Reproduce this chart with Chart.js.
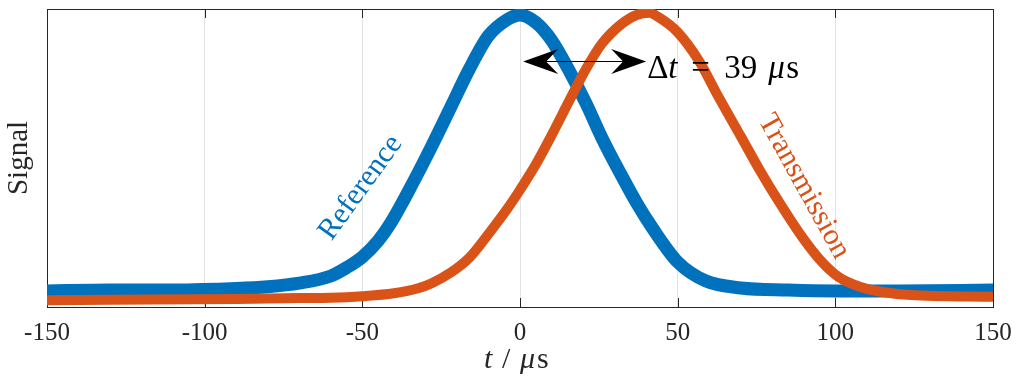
<!DOCTYPE html>
<html>
<head>
<meta charset="utf-8">
<script src="https://cdn.jsdelivr.net/npm/chart.js@4.4.1/dist/chart.umd.min.js"></script>
<style>
    body { margin: 0; background: #fff; }
    #wrap { width: 1019px; height: 383px; }
</style>
</head>
<body>
<div id="wrap"><canvas id="signalChart"></canvas></div>
<script>
// Data (t in µs, signal normalised to the axis height)
const refTime   = [-150, -130, -110, -90, -80, -70, -60, -55, -50, -45, -41, -34, -28, -22, -16, -10, -4, 0, 5, 10, 16, 21, 26, 32, 37, 42, 50, 59, 70, 85, 100, 120, 150];
const refSignal = [0.054, 0.057, 0.057, 0.062, 0.068, 0.080, 0.104, 0.132, 0.168, 0.222, 0.282, 0.416, 0.540, 0.670, 0.800, 0.910, 0.965, 0.980, 0.955, 0.895, 0.785, 0.682, 0.567, 0.445, 0.349, 0.265, 0.151, 0.087, 0.064, 0.057, 0.054, 0.054, 0.057];

const trnTime   = [-150, -90, -70, -60, -50, -40, -32, -28, -22, -16, -10, -4, 0, 5, 10, 16, 21, 26, 32, 37, 41, 44, 50, 57, 63, 70, 76, 82, 89, 95, 101, 108, 114, 124, 150];
const trnSignal = [0.023, 0.027, 0.030, 0.031, 0.036, 0.046, 0.064, 0.080, 0.115, 0.166, 0.245, 0.330, 0.393, 0.478, 0.576, 0.700, 0.800, 0.884, 0.948, 0.980, 0.987, 0.972, 0.922, 0.822, 0.704, 0.573, 0.460, 0.355, 0.242, 0.160, 0.101, 0.067, 0.052, 0.040, 0.034];

const tickValues = [-150, -100, -50, 0, 50, 100, 150];

// Delay arrow and the curve labels
const arrowFrom = 1;
const arrowTo = 40;
const arrowLevel = 0.826;
const refLabel = { text: 'Reference', t: -50.5, v: 0.40, angle: -54 };
const trnLabel = { text: 'Transmission', t: 90, v: 0.405, angle: 61 };

const colors = {
    ref: '#0072BD',
    trn: '#D95319',
    axis: '#262626',
    grid: '#e3e3e3'
};

const serif = '"Liberation Serif", "DejaVu Serif", serif';

// draw pieces of mixed upright / italic text at given offsets
function drawPieces(ctx, parts, x, y, size) {
    parts.forEach(p => {
        ctx.font = (p.italic ? 'italic ' : '') + size + 'px ' + serif;
        ctx.fillText(p.s, x + p.dx, y);
    });
}

function arrowHead(ctx, tipX, y, dir) {
    // dir = -1 points left, +1 points right
    const len = 35, half = 12.5, notch = 23;
    ctx.beginPath();
    ctx.moveTo(tipX, y);
    ctx.lineTo(tipX - dir * len, y - half);
    ctx.lineTo(tipX - dir * notch, y);
    ctx.lineTo(tipX - dir * len, y + half);
    ctx.closePath();
    ctx.fill();
}

const overlay = {
    id: 'overlay',
    beforeDatasetsDraw(chart) {
        const { ctx, chartArea: a, scales: { x } } = chart;
        ctx.save();
        ctx.strokeStyle = colors.axis;
        ctx.lineWidth = 1;
        ctx.strokeRect(a.left + 0.5, a.top + 0.5, a.right - a.left, a.bottom - a.top);
        ctx.beginPath();
        tickValues.forEach(v => {
            const px = Math.round(x.getPixelForValue(v)) + 0.5;
            ctx.moveTo(px, a.bottom);
            ctx.lineTo(px, a.bottom - 9);
            ctx.moveTo(px, a.top);
            ctx.lineTo(px, a.top + 9);
        });
        ctx.stroke();
        ctx.restore();
    },
    afterDatasetsDraw(chart) {
        const { ctx, chartArea: a, scales: { x, y } } = chart;
        ctx.save();

        // double arrow for the delay
        const x0 = x.getPixelForValue(arrowFrom);
        const x1 = x.getPixelForValue(arrowTo);
        const ay = Math.round(y.getPixelForValue(arrowLevel)) + 0.5;
        ctx.strokeStyle = '#000';
        ctx.fillStyle = '#000';
        ctx.lineWidth = 1.2;
        ctx.beginPath();
        ctx.moveTo(x0 + 20, ay);
        ctx.lineTo(x1 - 20, ay);
        ctx.stroke();
        arrowHead(ctx, x0, ay, -1);
        arrowHead(ctx, x1, ay, 1);

        ctx.textBaseline = 'alphabetic';
        ctx.textAlign = 'left';
        drawPieces(ctx, [
            { s: 'Δ', dx: 0 },
            { s: 't', italic: true, dx: 21 },
            { s: '=', dx: 44 },
            { s: '39', dx: 77 },
            { s: 'μ', italic: true, dx: 121 },
            { s: 's', dx: 139 }
        ], x1 + 1, ay + 16, 33);

        // curve labels
        [[refLabel, colors.ref], [trnLabel, colors.trn]].forEach(([lab, col]) => {
            ctx.save();
            ctx.translate(x.getPixelForValue(lab.t), y.getPixelForValue(lab.v));
            ctx.rotate(lab.angle * Math.PI / 180);
            ctx.fillStyle = col;
            ctx.font = '30px ' + serif;
            ctx.textAlign = 'center';
            ctx.textBaseline = 'middle';
            ctx.fillText(lab.text, 0, 0);
            ctx.restore();
        });

        // x axis title: t / μs
        ctx.fillStyle = colors.axis;
        const cx = (a.left + a.right) / 2;
        drawPieces(ctx, [
            { s: 't', italic: true, dx: 0 },
            { s: '/', dx: 18 },
            { s: 'μ', italic: true, dx: 36 },
            { s: 's', dx: 53 }
        ], cx - 36, a.bottom + 61, 30);

        ctx.restore();
    }
};

new Chart(document.getElementById('signalChart'), {
    type: 'line',
    data: {
        datasets: [
            {
                label: 'Reference',
                data: refTime.map((t, i) => ({ x: t, y: refSignal[i] })),
                borderColor: colors.ref,
                borderWidth: 13,
                pointRadius: 0,
                cubicInterpolationMode: 'monotone',
                borderCapStyle: 'round',
                borderJoinStyle: 'round',
                order: 1
            },
            {
                label: 'Transmission',
                data: trnTime.map((t, i) => ({ x: t, y: trnSignal[i] })),
                borderColor: colors.trn,
                borderWidth: 10,
                pointRadius: 0,
                cubicInterpolationMode: 'monotone',
                borderCapStyle: 'round',
                borderJoinStyle: 'round',
                order: 0
            }
        ]
    },
    options: {
        responsive: true,
        maintainAspectRatio: false,
        animation: false,
        layout: { padding: { top: 9, right: 26, left: 0, bottom: 0 } },
        plugins: {
            legend: { display: false },
            tooltip: { enabled: false }
        },
        scales: {
            x: {
                type: 'linear',
                min: -150,
                max: 150,
                afterBuildTicks: scale => {
                    scale.ticks = tickValues.map(v => ({ value: v }));
                },
                afterFit: scale => {
                    scale.height = 76;
                    scale.paddingLeft = 0;
                    scale.paddingRight = 0;
                },
                grid: {
                    color: colors.grid,
                    drawTicks: false
                },
                border: { display: false },
                ticks: {
                    color: colors.axis,
                    padding: 11,
                    maxRotation: 0,
                    font: { family: serif, size: 25 }
                }
            },
            y: {
                min: 0,
                max: 1,
                afterFit: scale => { scale.width = 47; },
                grid: { display: false },
                border: { display: false },
                ticks: { display: false },
                title: {
                    display: true,
                    text: 'Signal',
                    color: colors.axis,
                    padding: { top: 2, bottom: 0 },
                    font: { family: serif, size: 29 }
                }
            }
        }
    },
    plugins: [overlay]
});
</script>
</body>
</html>
